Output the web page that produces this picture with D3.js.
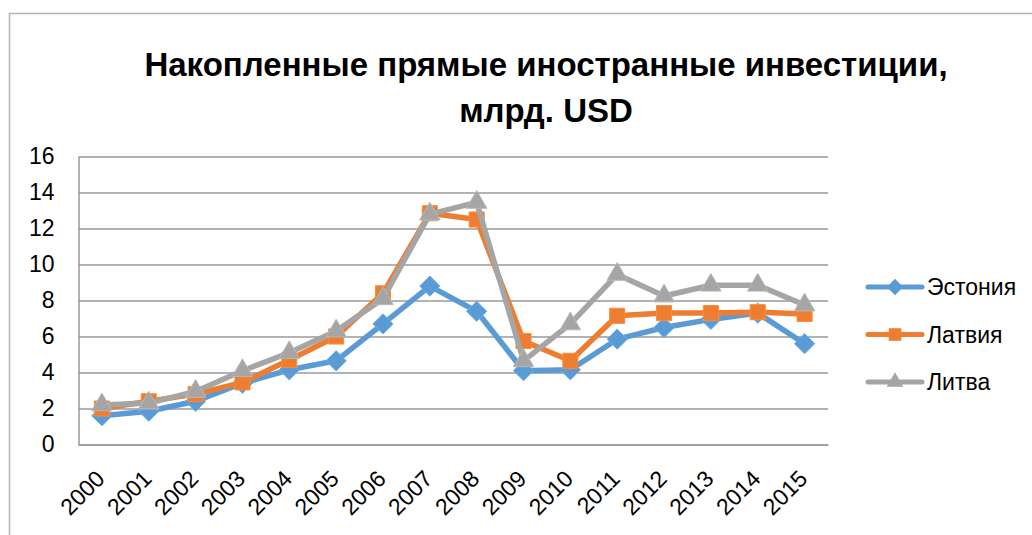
<!DOCTYPE html>
<html>
<head>
<meta charset="utf-8">
<script src="https://cdn.jsdelivr.net/npm/d3@7"></script>
<style>
  body { margin: 0; background: #fff; }
  svg { display: block; font-family: "Liberation Sans", Arial, sans-serif; }
</style>
</head>
<body>
<svg id="chart" width="1032" height="535"></svg>
<script>
// data
const years = ["2000","2001","2002","2003","2004","2005","2006","2007","2008","2009","2010","2011","2012","2013","2014","2015"];
const estonia   = [1.6, 1.85, 2.4, 3.4, 4.15, 4.65, 6.7, 8.8, 7.4, 4.1, 4.15, 5.85, 6.5, 6.95, 7.3, 5.6];
const latvia    = [2.0, 2.4, 2.8, 3.45, 4.7, 6.0, 8.4, 12.85, 12.5, 5.75, 4.65, 7.15, 7.3, 7.3, 7.35, 7.25];
const lithuania = [2.2, 2.3, 2.95, 4.1, 5.1, 6.3, 8.1, 12.8, 13.45, 4.65, 6.7, 9.45, 8.25, 8.85, 8.85, 7.75];
const yTicks = [0, 2, 4, 6, 8, 10, 12, 14, 16];
const titleLines = ["Накопленные прямые иностранные инвестиции,", "млрд. USD"];

const series = [
  {name: "Эстония", values: estonia,   color: "#5B9BD5", marker: "diamond"},
  {name: "Латвия",  values: latvia,    color: "#ED7D31", marker: "square"},
  {name: "Литва",   values: lithuania, color: "#A5A5A5", marker: "triangle"}
];

const svg = d3.select("#chart");
const margin = {top: 156.5, right: 204, bottom: 90.5, left: 78.5};
const width = 1032, height = 535;

// chart frame (only top/left visible in the crop)
svg.append("path")
  .attr("d", `M9.5,${height} V13.5 H${width}`)
  .attr("fill", "none")
  .attr("stroke", "#b4b4b4")
  .attr("stroke-width", 1.5);

// title
svg.append("g")
  .selectAll("text")
  .data(titleLines)
  .enter().append("text")
  .attr("x", 546)
  .attr("y", (d, i) => 76 + i * 46)
  .attr("text-anchor", "middle")
  .attr("font-weight", "bold")
  .attr("font-size", 33)
  .attr("fill", "#000")
  .text(d => d);

const x = d3.scalePoint()
  .domain(years)
  .range([margin.left, width - margin.right])
  .padding(0.5);

const y = d3.scaleLinear()
  .domain([0, 16])
  .range([height - margin.bottom, margin.top]);

// y axis with gridlines
svg.append("g")
  .attr("transform", `translate(${margin.left},0)`)
  .call(d3.axisLeft(y).tickValues(yTicks).tickSize(0).tickPadding(24))
  .call(g => g.select(".domain").attr("stroke", "#9a9a9a").attr("stroke-width", 1.5))
  .call(g => g.selectAll(".tick text")
    .attr("font-family", "Liberation Sans, Arial, sans-serif")
    .attr("font-size", 23)
    .attr("fill", "#000"))
  .call(g => g.selectAll(".tick line").clone()
    .attr("x2", width - margin.right - margin.left)
    .attr("stroke", "#9a9a9a")
    .attr("stroke-width", 1.5));

// x axis
svg.append("g")
  .attr("transform", `translate(0,${height - margin.bottom})`)
  .call(d3.axisBottom(x).tickSize(0).tickSizeOuter(0))
  .call(g => g.select(".domain").attr("stroke", "#9a9a9a").attr("stroke-width", 1.5))
  .call(g => g.selectAll(".tick text")
    .attr("font-family", "Liberation Sans, Arial, sans-serif")
    .attr("font-size", 23)
    .attr("fill", "#000")
    .attr("text-anchor", "end")
    .attr("transform", "translate(-2,30) rotate(-45)")
    .attr("dy", "0.35em")
    .attr("y", 0)
    .attr("x", 0));

const symbolOf = {
  diamond: d3.symbol().type(d3.symbolDiamond2).size(260),
  square: d3.symbol().type(d3.symbolSquare2).size(290),
  triangle: d3.symbol().type(d3.symbolTriangle2).size(300)
};
const legendSymbol = {
  diamond: d3.symbol().type(d3.symbolDiamond2).size(170),
  square: d3.symbol().type(d3.symbolSquare2).size(200),
  triangle: d3.symbol().type(d3.symbolTriangle2).size(200)
};

const line = d3.line()
  .x((d, i) => x(years[i]))
  .y(d => y(d));

series.forEach(s => {
  const g = svg.append("g");
  g.append("path")
    .datum(s.values)
    .attr("d", line)
    .attr("fill", "none")
    .attr("stroke", s.color)
    .attr("stroke-width", 5.5)
    .attr("stroke-linejoin", "round")
    .attr("stroke-linecap", "round");
  g.selectAll("path.mark")
    .data(s.values)
    .enter().append("path")
    .attr("class", "mark")
    .attr("d", symbolOf[s.marker])
    .attr("transform", (d, i) => `translate(${x(years[i])},${y(d)})`)
    .attr("fill", s.color)
    .attr("stroke", d3.color(s.color).brighter(0.3))
    .attr("stroke-width", 1);
});

// legend
const legend = svg.append("g")
  .selectAll("g")
  .data(series)
  .enter().append("g")
  .attr("transform", (d, i) => `translate(868,${287 + i * 47.5})`);

legend.append("line")
  .attr("x1", 0).attr("x2", 54)
  .attr("stroke", d => d.color)
  .attr("stroke-width", 5)
  .attr("stroke-linecap", "round");

legend.append("path")
  .attr("d", d => legendSymbol[d.marker]())
  .attr("transform", "translate(27,0)")
  .attr("fill", d => d.color);

legend.append("text")
  .attr("x", 59)
  .attr("dy", "0.35em")
  .attr("font-size", 23)
  .attr("fill", "#000")
  .text(d => d.name);
</script>
</body>
</html>
